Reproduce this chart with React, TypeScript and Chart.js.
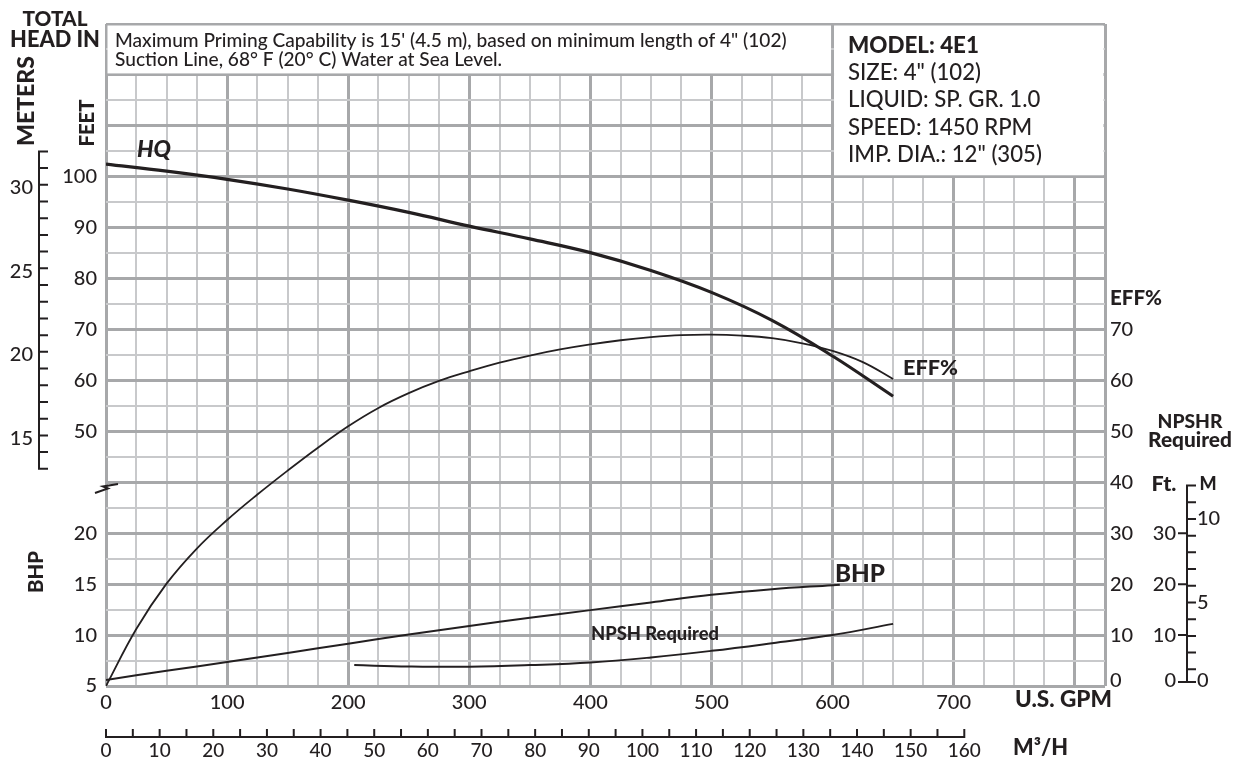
import React, { useEffect, useRef } from "react";
import { Chart, registerables } from "chart.js";
Chart.register(...registerables);

const FAMILY = 'Lato, "Open Sans", "DejaVu Sans", sans-serif';
const INK = "#231f20";
const GRID_MAJOR = "#a7a8aa";
const GRID_MINOR = "#c8c9cb";

// ---- series (x = U.S. GPM) ----
const headGpm = [0, 50, 100, 150, 200, 250, 300, 350, 400, 450, 500, 550, 600, 650];
const headFeet = [102.5, 101.1, 99.5, 97.6, 95.4, 93.0, 90.3, 87.8, 85.1, 81.6, 77.3, 71.8, 64.8, 56.9];

const effGpm = [0, 25, 50, 75, 100, 125, 150, 175, 200, 225, 250, 275, 300, 325, 350, 375, 400, 425, 450, 475, 500, 525, 550, 575, 600, 625, 650];
const effPct = [0, 11.2, 20.1, 27.0, 32.6, 37.6, 42.3, 46.8, 51.0, 54.6, 57.5, 59.9, 61.8, 63.5, 64.9, 66.1, 67.1, 67.9, 68.5, 68.9, 69.0, 68.8, 68.3, 67.3, 65.8, 63.6, 60.3];

const bhpGpm = [0, 50, 100, 150, 200, 250, 300, 350, 400, 450, 500, 550, 600, 606];
const bhpValues = [5.6, 6.5, 7.35, 8.25, 9.15, 10.05, 10.9, 11.7, 12.45, 13.2, 13.95, 14.5, 14.9, 14.95];

const npshGpm = [205, 250, 300, 350, 400, 450, 500, 550, 600, 650];
const npshFeet = [4.1, 3.85, 3.8, 4.1, 4.6, 5.6, 6.9, 8.4, 10.0, 12.2];

// ---- tick labels ----
const gpmLabels = [0, 100, 200, 300, 400, 500, 600, 700];
const feetLabels = [50, 60, 70, 80, 90, 100];
const bhpLabels = [5, 10, 15, 20];
const effLabels = [0, 10, 20, 30, 40, 50, 60, 70];
const meterTicks = [13, 14, 15, 16, 17, 18, 19, 20, 21, 22, 23, 24, 25, 26, 27, 28, 29, 30, 31, 32];
const meterLabels = [15, 20, 25, 30];
const npshFtLabels = [0, 10, 20, 30];
const npshMTicks = [0, 1, 2, 3, 4, 5, 6, 7, 8, 9, 10, 11, 12];
const npshMLabels = [0, 5, 10];
const m3Ticks = [0, 5, 10, 15, 20, 25, 30, 35, 40, 45, 50, 55, 60, 65, 70, 75, 80, 85, 90, 95, 100, 105, 110, 115, 120, 125, 130, 135, 140, 145, 150, 155, 160];
const m3Labels = [0, 10, 20, 30, 40, 50, 60, 70, 80, 90, 100, 110, 120, 130, 140, 150, 160];

const noteLines = [
  'Maximum Priming Capability is 15\' (4.5 m), based on minimum length of 4" (102)',
  "Suction Line, 68° F (20° C) Water at Sea Level.",
];
const modelTitle = "MODEL: 4E1";
const modelLines = ['SIZE: 4" (102)', "LIQUID: SP. GR. 1.0", "SPEED: 1450 RPM", 'IMP. DIA.: 12" (305)'];

// unit conversions onto the shared vertical scale (feet / % / NPSH ft)
const FT_PER_M = 3.2808;
const GPM_PER_M3H = 4.43;
const bhpToUnit = (b: number) => (b - 5) * 2;

type TOpts = { size: number; bold?: boolean; italic?: boolean; align?: CanvasTextAlign; fit?: number; rotate?: number };
function drawText(ctx: CanvasRenderingContext2D, s: string, x: number, y: number, o: TOpts) {
  ctx.save();
  const font = (sz: number) => `${o.italic ? "italic " : ""}${o.bold ? "900" : "500"} ${sz}px ${FAMILY}`;
  let size = o.size;
  ctx.font = font(size);
  if (o.fit) {
    const w = ctx.measureText(s).width;
    size = (size * o.fit) / w;
    ctx.font = font(size);
  }
  ctx.fillStyle = INK;
  ctx.textAlign = o.align || "left";
  ctx.textBaseline = "middle";
  ctx.translate(x, y);
  if (o.rotate) ctx.rotate(o.rotate);
  ctx.fillText(s, 0, 0);
  ctx.restore();
}

const overlay = {
  id: "overlay",
  beforeDatasetsDraw(chart: any) {
    const { ctx } = chart;
    const X = chart.scales.x, Y = chart.scales.y;
    ctx.save();
    ctx.fillStyle = "#ffffff";
    const box = (g0: number, g1: number, u0: number, u1: number) => {
      const x0 = X.getPixelForValue(g0) + 1.5, x1 = X.getPixelForValue(g1) - 1.5;
      const y0 = Y.getPixelForValue(u0) + 1.5, y1 = Y.getPixelForValue(u1) - 1.5;
      ctx.fillRect(x0, y0, x1 - x0, y1 - y0);
    };
    box(0, 600, 130, 120);
    box(600, 825, 130, 100);
    ctx.restore();
  },
  afterDraw(chart: any) {
    const { ctx } = chart;
    const X = chart.scales.x, Y = chart.scales.y;
    const px = (g: number) => X.getPixelForValue(g);
    const py = (u: number) => Y.getPixelForValue(u);

    // note box
    ctx.save();
    ctx.font = `500 16px ${FAMILY}`;
    const noteSize = (16 * 672) / ctx.measureText(noteLines[0]).width;
    ctx.restore();
    drawText(ctx, noteLines[0], 115, 41, { size: noteSize });
    drawText(ctx, noteLines[1], 115, 60, { size: noteSize });

    // model box
    ctx.save();
    ctx.font = `500 20px ${FAMILY}`;
    const mSize = (20 * 194) / ctx.measureText(modelLines[3]).width;
    ctx.restore();
    drawText(ctx, modelTitle, 848, 46, { size: 20, bold: true, fit: 131 });
    modelLines.forEach((s, i) => drawText(ctx, s, 848, 73 + i * 27.3, { size: mSize }));

    // titles
    drawText(ctx, "TOTAL", 55, 19, { size: 20, bold: true, fit: 65, align: "center" });
    drawText(ctx, "HEAD IN", 55, 40, { size: 20, bold: true, fit: 90, align: "center" });
    drawText(ctx, "METERS", 27, 101, { size: 20, bold: true, fit: 90, align: "center", rotate: -Math.PI / 2 });
    drawText(ctx, "FEET", 87, 123, { size: 20, bold: true, fit: 47, align: "center", rotate: -Math.PI / 2 });
    drawText(ctx, "BHP", 36, 572, { size: 20, bold: true, fit: 42, align: "center", rotate: -Math.PI / 2 });

    // left feet & bhp labels
    feetLabels.forEach((v) => drawText(ctx, String(v), 97, py(v), { size: 20, align: "right" }));
    bhpLabels.forEach((v) => drawText(ctx, String(v), 97, py(bhpToUnit(v)), { size: 20, align: "right" }));

    // gpm labels
    gpmLabels.forEach((v) => drawText(ctx, String(v), px(v), 703, { size: 20, align: "center" }));
    drawText(ctx, "U.S. GPM", 1015, 700, { size: 20, bold: true, fit: 97 });

    // right eff labels
    effLabels.forEach((v) => drawText(ctx, String(v), 1110, py(v) - (v === 0 ? 5 : 0), { size: 20 }));
    drawText(ctx, "EFF%", 1110, 298, { size: 18, bold: true, fit: 52 });

    // curve labels
    drawText(ctx, "HQ", 137, 150, { size: 20, bold: true, italic: true, fit: 34 });
    drawText(ctx, "EFF%", 903, 368, { size: 20, bold: true, fit: 55 });
    drawText(ctx, "BHP", 835, 574, { size: 20, bold: true, fit: 50 });
    drawText(ctx, "NPSH Required", 591, 634, { size: 15, bold: true, fit: 128 });

    ctx.save();
    ctx.strokeStyle = INK;
    ctx.lineWidth = 2;

    // meters bracket (left)
    const mx = 39;
    const myTop = py(32 * FT_PER_M), myBot = py(13 * FT_PER_M);
    ctx.beginPath();
    ctx.moveTo(mx, myTop);
    ctx.lineTo(mx, myBot);
    meterTicks.forEach((m) => {
      const yy = py(m * FT_PER_M);
      ctx.moveTo(mx - 1, yy);
      ctx.lineTo(mx + 9, yy);
    });
    ctx.stroke();
    meterLabels.forEach((m) => drawText(ctx, String(m), 33, py(m * FT_PER_M) + 3, { size: 20, align: "right" }));

    // break symbol
    ctx.beginPath();
    ctx.lineWidth = 2;
    ctx.moveTo(95, 493);
    ctx.lineTo(108, 488.5);
    ctx.lineTo(103, 486.5);
    ctx.lineTo(118, 484);
    ctx.stroke();

    // NPSHR bracket (right)
    const nx = 1187;
    ctx.beginPath();
    ctx.moveTo(nx, py(12 * FT_PER_M));
    ctx.lineTo(nx, py(0) - 4);
    npshMTicks.forEach((m) => {
      const yy = m === 0 ? py(0) - 4 : py(m * FT_PER_M);
      ctx.moveTo(nx - 1, yy);
      ctx.lineTo(nx + 9, yy);
    });
    npshFtLabels.forEach((f) => {
      const yy = f === 0 ? py(0) - 4 : py(f);
      ctx.moveTo(nx + 1, yy);
      ctx.lineTo(nx - 9, yy);
    });
    ctx.stroke();
    npshFtLabels.forEach((f) => drawText(ctx, String(f), 1176, f === 0 ? py(0) - 5 : py(f), { size: 20, align: "right" }));
    npshMLabels.forEach((m) => drawText(ctx, String(m), 1197, m === 0 ? py(0) - 5 : py(m * FT_PER_M), { size: 20 }));
    drawText(ctx, "NPSHR", 1190, 422, { size: 18, bold: true, fit: 65, align: "center" });
    drawText(ctx, "Required", 1190, 440, { size: 18, bold: true, fit: 84, align: "center" });
    drawText(ctx, "Ft.", 1164, 484, { size: 18, bold: true, fit: 25, align: "center" });
    drawText(ctx, "M", 1208, 484, { size: 18, bold: true, align: "center" });

    // M3/H axis
    const ay = 737;
    ctx.beginPath();
    ctx.moveTo(px(0) - 1, ay);
    ctx.lineTo(px(160 * GPM_PER_M3H) + 1, ay);
    m3Ticks.forEach((m) => {
      const xx = px(m * GPM_PER_M3H);
      ctx.moveTo(xx, ay + 1);
      ctx.lineTo(xx, ay - 8);
    });
    ctx.stroke();
    ctx.restore();
    m3Labels.forEach((m) => drawText(ctx, String(m), px(m * GPM_PER_M3H), 751, { size: 19, align: "center" }));
    drawText(ctx, "M³/H", 1013, 748, { size: 20, bold: true, fit: 55 });
  },
};

export default function App() {
  const ref = useRef<HTMLCanvasElement>(null);
  useEffect(() => {
    const pts = (xs: number[], ys: number[], f = (v: number) => v) => xs.map((x, i) => ({ x, y: f(ys[i]) }));
    const line = (data: any[], width: number) => ({
      data,
      borderColor: INK,
      borderWidth: width,
      pointRadius: 0,
      fill: false,
      tension: 0.4,
      borderCapStyle: "butt" as const,
    });
    const chart = new Chart(ref.current as HTMLCanvasElement, {
      type: "line",
      data: {
        datasets: [
          line(pts(headGpm, headFeet), 3.2),
          line(pts(effGpm, effPct), 1.8),
          line(pts(bhpGpm, bhpValues, bhpToUnit), 2),
          line(pts(npshGpm, npshFeet), 2),
        ],
      },
      options: {
        responsive: false,
        animation: false,
        devicePixelRatio: 1,
        layout: { padding: { left: 106, top: 24, right: 130, bottom: 76 } },
        plugins: { legend: { display: false }, tooltip: { enabled: false } },
        scales: {
          x: {
            type: "linear",
            min: 0,
            max: 825,
            ticks: { display: false, stepSize: 25 },
            border: { display: false },
            grid: {
              drawTicks: false,
              color: (c: any) => (c.tick && (c.tick.value % 100 === 0 || c.tick.value === 825) ? GRID_MAJOR : GRID_MINOR),
              lineWidth: (c: any) => (c.tick && (c.tick.value % 100 === 0 || c.tick.value === 825) ? 3 : 2),
            },
          },
          y: {
            type: "linear",
            min: 0,
            max: 130,
            ticks: { display: false, stepSize: 5 },
            border: { display: false },
            grid: {
              drawTicks: false,
              color: (c: any) => (c.tick && c.tick.value % 10 === 0 ? GRID_MAJOR : GRID_MINOR),
              lineWidth: (c: any) => (c.tick && c.tick.value % 10 === 0 ? 3 : 2),
            },
          },
        },
      },
      plugins: [overlay],
    });
    return () => chart.destroy();
  }, []);
  return (
    <canvas
      ref={ref}
      width={1235}
      height={762}
      style={{ position: "absolute", left: 0, top: 0, width: 1235, height: 762, background: "#fff" }}
    />
  );
}
